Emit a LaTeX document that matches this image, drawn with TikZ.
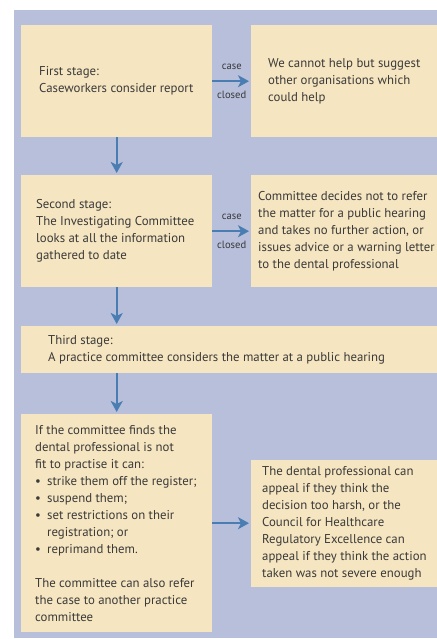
\documentclass[tikz,border=0pt]{standalone}
\usepackage{fontspec}
\setmainfont{PT Sans}
\usetikzlibrary{arrows.meta}
\definecolor{fondbleu}{RGB}{183,191,218}
\definecolor{beige}{RGB}{245,229,192}
\definecolor{bleufleche}{RGB}{74,126,178}
\definecolor{gristexte}{RGB}{58,58,58}
\begin{document}
\begin{tikzpicture}[x=1pt,y=-1pt]
\tikzstyle{boite} = [fill=beige,inner sep=0pt,anchor=north west]
\tikzstyle{texte} = [anchor=west,align=left,inner sep=0pt,text=gristexte,font=\fontsize{12.8}{17}\selectfont]
\tikzstyle{fleche} = [draw=bleufleche,line width=2pt,shorten >=2pt,-{Stealth[length=11pt,width=12pt,inset=3pt]}]
\tikzstyle{etiq} = [inner sep=0pt,text=gristexte,font=\fontsize{10.6}{12}\selectfont]
\useasboundingbox (0,0) rectangle (436,639);
%fond
\fill[fondbleu] (14,10) rectangle (460,638);
%boites de gauche
\node[boite,minimum width=191pt,minimum height=112pt] (etape1) at (21,25) {};
\node[boite,minimum width=191pt,minimum height=112pt] (etape2) at (21,175) {};
\node[boite,minimum width=430pt,minimum height=47pt] (etape3) at (21,326) {};
\node[boite,minimum width=191pt,minimum height=218pt] (decision) at (21,414) {};
%boites de droite
\node[boite,minimum width=200pt,minimum height=112pt] (refus1) at (251,25) {};
\node[boite,minimum width=200pt,minimum height=112pt] (refus2) at (251,175) {};
\node[boite,minimum width=200pt,minimum height=127pt] (appel) at (251,460) {};
%textes
\node[texte,xshift=18pt] (texte1) at (etape1.west) {First stage:\\Caseworkers consider report};
\node[texte,xshift=17pt] (texteR1) at (refus1.west) {We cannot help but suggest\\other organisations which\\could help};
\node[texte,xshift=15pt] (texte2) at (etape2.west) {Second stage:\\The Investigating Committee\\looks at all the information\\gathered to date};
\node[texte,xshift=7pt] (texteR2) at (refus2.west) {Committee decides not to refer\\the matter for a public hearing\\and takes no further action, or\\issues advice or a warning letter\\to the dental professional};
\node[texte,xshift=27pt] (texte3) at (etape3.west) {Third stage:\\A practice committee considers the matter at a public hearing};
\node[texte,xshift=14pt] (texte4) at (decision.west) {If the committee finds the\\dental professional is not\\fit to practise it can:\\
\makebox[12pt][l]{\textbullet}strike them off the register;\\
\makebox[12pt][l]{\textbullet}suspend them;\\
\makebox[12pt][l]{\textbullet}set restrictions on their\\
\hspace*{12pt}registration; or\\
\makebox[12pt][l]{\textbullet}reprimand them.\\[17pt]
The committee can also refer\\the case to another practice\\committee};
\node[texte,xshift=11pt] (texteA) at (appel.west) {The dental professional can\\appeal if they think the\\decision too harsh, or the\\Council for Healthcare\\Regulatory Excellence can\\appeal if they think the action\\taken was not severe enough};
%fleches horizontales
\draw[fleche] (etape1.east) -- node[etiq,midway,yshift=14pt] (case1) {case} node[etiq,midway,yshift=-14pt] (clos1) {closed} (refus1.west);
\draw[fleche] (etape2.east) -- node[etiq,midway,yshift=14pt] (case2) {case} node[etiq,midway,yshift=-14pt] (clos2) {closed} (refus2.west);
\draw[fleche] (decision.east) -- (decision.east -| appel.west);
%fleches verticales
\draw[fleche] (etape1.south) -- (etape2.north);
\draw[fleche] (etape2.south) -- (etape2.south |- etape3.north);
\draw[fleche] (decision.north |- etape3.south) -- (decision.north);
\end{tikzpicture}
\end{document}
